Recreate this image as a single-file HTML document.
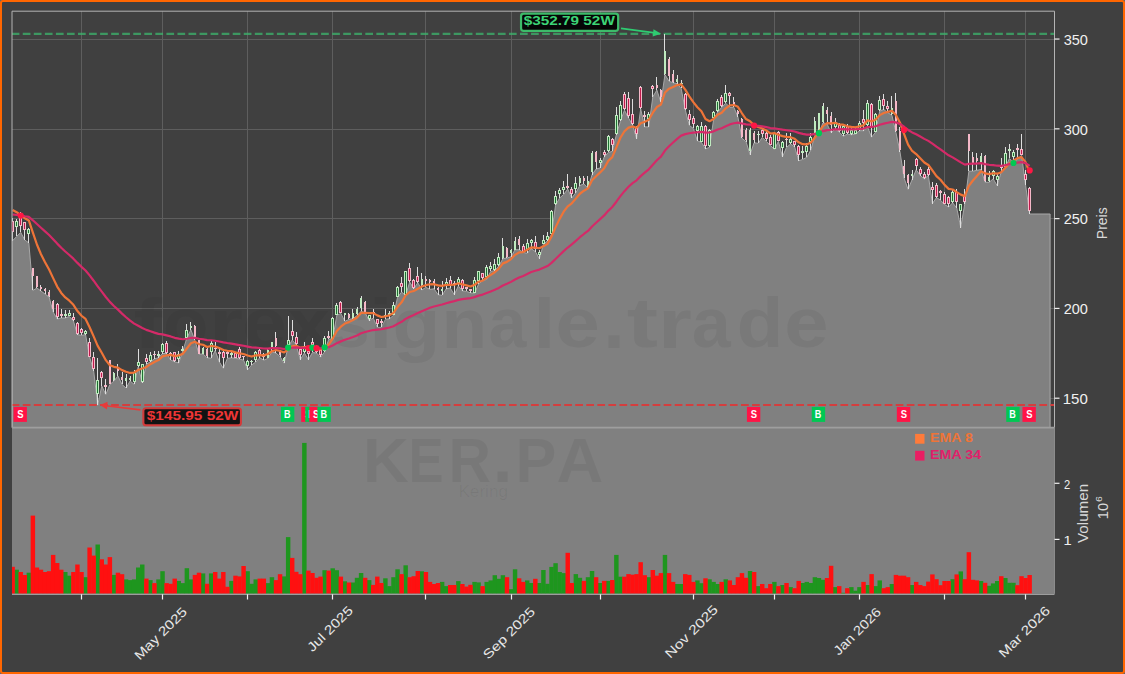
<!DOCTYPE html>
<html><head><meta charset="utf-8"><style>
html,body{margin:0;padding:0;background:#5b6670;overflow:hidden;}
#f{position:relative;width:1125px;height:674px;overflow:hidden;background:#5b6670;}
#b{position:absolute;left:0;top:0;width:1121px;height:670px;border:2px solid #ff6600;border-radius:3px;background:#404040;}
</style></head><body><div id="f"><div id="b"></div>
<svg width="1125" height="674" viewBox="0 0 1125 674" style="position:absolute;left:0;top:0">
<defs><clipPath id="cp"><rect x="12.00" y="11.20" width="1042.50" height="416.50"/></clipPath>
<clipPath id="cv"><rect x="12.00" y="427.70" width="1042.50" height="166.10"/></clipPath></defs>
<rect x="12.0" y="11.2" width="1042.5" height="416.5" fill="#404040"/>
<path d="M81.5 11.2V427.7M162.5 11.2V427.7M247.5 11.2V427.7M332.5 11.2V427.7M425.5 11.2V427.7M511.5 11.2V427.7M600.5 11.2V427.7M693.5 11.2V427.7M774.5 11.2V427.7M859.5 11.2V427.7M944.5 11.2V427.7M1025.5 11.2V427.7M12.0 39.5H1054.5M12.0 129.5H1054.5M12.0 218.5H1054.5M12.0 308.5H1054.5M12.0 398.5H1054.5" stroke="#5e5e5e" stroke-width="1" fill="none"/>
<g clip-path="url(#cp)">
<polygon points="12.00,429.70 12.00,240.70 12.62,240.70 16.67,236.50 20.72,232.40 24.78,240.00 28.83,242.90 32.88,290.50 36.93,288.00 40.98,291.00 45.04,294.00 49.09,297.00 53.14,312.00 57.19,319.00 61.24,318.00 65.29,318.00 69.35,316.50 73.40,320.80 77.45,334.60 81.50,335.40 85.55,334.60 89.61,357.00 93.66,370.70 97.71,405.20 101.76,386.00 105.81,394.50 109.87,384.50 113.92,381.00 117.97,376.00 122.02,384.50 126.07,388.00 130.13,381.00 134.18,384.40 138.23,367.00 142.28,382.60 146.33,364.20 150.38,361.80 154.44,358.90 158.49,357.70 162.54,353.50 166.59,353.50 170.64,360.00 174.70,361.80 178.75,363.00 182.80,351.00 186.85,338.00 190.90,329.80 194.96,340.50 199.01,354.10 203.06,354.00 207.11,357.70 211.16,358.30 215.22,350.60 219.27,361.80 223.32,368.30 227.37,358.40 231.42,357.80 235.47,358.40 239.53,359.00 243.58,360.20 247.63,369.70 251.68,365.00 255.73,362.00 259.79,357.80 263.84,360.20 267.89,358.40 271.94,351.90 275.99,353.00 280.05,356.60 284.10,363.20 288.15,347.00 292.20,340.00 296.25,345.00 300.30,359.60 304.36,353.00 308.41,359.60 312.46,352.50 316.51,353.00 320.56,357.20 324.62,351.90 328.67,339.40 332.72,338.80 336.77,315.40 340.82,313.40 344.88,321.40 348.93,319.40 352.98,318.70 357.03,315.40 361.08,311.40 365.14,312.70 369.19,320.70 373.24,318.00 377.29,327.40 381.34,327.40 385.39,319.40 389.45,318.70 393.50,315.40 397.55,297.40 401.60,292.00 405.65,295.40 409.71,282.00 413.76,288.80 417.81,282.70 421.86,290.00 425.91,287.40 429.97,289.40 434.02,288.80 438.07,294.70 442.12,295.40 446.17,288.80 450.23,288.00 454.28,294.70 458.33,286.00 462.38,290.80 466.43,291.40 470.48,292.80 474.54,293.40 478.59,284.00 482.64,280.70 486.69,279.40 490.74,271.40 494.80,270.70 498.85,266.00 502.90,258.70 506.95,258.00 511.00,256.80 515.06,249.70 519.11,249.70 523.16,252.40 527.21,253.30 531.26,248.80 535.32,251.50 539.37,258.60 543.42,244.40 547.47,240.80 551.52,234.60 555.57,205.20 559.63,198.00 563.68,194.50 567.73,189.00 571.78,198.00 575.83,192.70 579.89,185.60 583.94,183.80 587.99,188.30 592.04,174.80 596.09,169.00 600.15,168.00 604.20,157.00 608.25,152.50 612.30,151.40 616.35,134.70 620.40,121.30 624.46,110.20 628.51,118.00 632.56,124.70 636.61,139.00 640.66,109.00 644.72,126.90 648.77,126.90 652.82,96.80 656.87,90.10 660.92,102.40 664.98,74.70 669.03,81.20 673.08,82.80 677.13,83.70 681.18,88.50 685.24,109.80 689.29,125.30 693.34,128.50 697.39,140.80 701.44,142.40 705.49,148.90 709.55,147.30 713.60,119.50 717.65,112.20 721.70,107.30 725.75,103.20 729.81,107.30 733.86,107.30 737.91,117.00 741.96,138.30 746.01,141.60 750.07,154.60 754.12,142.70 758.17,143.40 762.22,137.40 766.27,141.40 770.33,145.40 774.38,149.40 778.43,141.40 782.48,156.80 786.53,147.40 790.58,144.00 794.64,146.70 798.69,160.80 802.74,159.40 806.79,157.40 810.84,150.00 814.90,135.40 818.95,133.00 823.00,122.70 827.05,124.00 831.10,132.70 835.16,129.00 839.21,132.00 843.26,136.40 847.31,134.00 851.36,134.80 855.42,134.00 859.47,130.70 863.52,130.70 867.57,127.00 871.62,137.20 875.67,132.00 879.73,111.00 883.78,109.50 887.83,112.70 891.88,115.20 895.93,132.30 899.99,151.90 904.04,178.00 908.09,189.40 912.14,179.60 916.19,169.80 920.25,175.50 924.30,178.90 928.35,175.50 932.40,203.60 936.45,197.60 940.51,200.20 944.56,204.50 948.61,207.00 952.66,202.80 956.71,207.90 960.76,227.50 964.82,203.60 968.87,171.20 972.92,171.20 976.97,170.30 981.02,169.50 985.08,182.30 989.13,182.30 993.18,178.90 997.23,185.70 1001.28,171.70 1005.34,167.80 1009.39,158.50 1013.44,162.40 1017.49,159.30 1021.54,155.40 1025.59,185.00 1029.65,214.00 1050.10,214.00 1050.10,429.70" fill="#808080" stroke="#a8a8a8" stroke-width="1"/>
<text x="133.80" y="348.00" font-family="Liberation Sans" font-weight="bold" font-size="69.89" fill="#202020" fill-opacity="0.065" textLength="28.84" lengthAdjust="spacingAndGlyphs">f</text>
<text x="163.10" y="347.30" font-family="Liberation Sans" font-weight="bold" font-size="70.09" fill="#202020" fill-opacity="0.065" textLength="45.33" lengthAdjust="spacingAndGlyphs">o</text>
<text x="209.00" y="348.00" font-family="Liberation Sans" font-weight="bold" font-size="70.61" fill="#202020" fill-opacity="0.065" textLength="33.92" lengthAdjust="spacingAndGlyphs">r</text>
<text x="242.30" y="347.30" font-family="Liberation Sans" font-weight="bold" font-size="70.09" fill="#202020" fill-opacity="0.065" textLength="44.37" lengthAdjust="spacingAndGlyphs">e</text>
<text x="287.90" y="348.00" font-family="Liberation Sans" font-weight="bold" font-size="70.13" fill="#202020" fill-opacity="0.065" textLength="41.56" lengthAdjust="spacingAndGlyphs">x</text>
<text x="331.50" y="347.30" font-family="Liberation Sans" font-weight="bold" font-size="70.09" fill="#202020" fill-opacity="0.065" textLength="38.15" lengthAdjust="spacingAndGlyphs">s</text>
<text x="369.10" y="348.00" font-family="Liberation Sans" font-weight="bold" font-size="69.89" fill="#202020" fill-opacity="0.065" textLength="23.56" lengthAdjust="spacingAndGlyphs">i</text>
<text x="392.40" y="348.30" font-family="Liberation Sans" font-weight="bold" font-size="70.85" fill="#202020" fill-opacity="0.065" textLength="47.85" lengthAdjust="spacingAndGlyphs">g</text>
<text x="441.40" y="348.00" font-family="Liberation Sans" font-weight="bold" font-size="70.61" fill="#202020" fill-opacity="0.065" textLength="45.70" lengthAdjust="spacingAndGlyphs">n</text>
<text x="488.70" y="347.30" font-family="Liberation Sans" font-weight="bold" font-size="70.09" fill="#202020" fill-opacity="0.065" textLength="37.65" lengthAdjust="spacingAndGlyphs">a</text>
<text x="533.60" y="348.00" font-family="Liberation Sans" font-weight="bold" font-size="69.89" fill="#202020" fill-opacity="0.065" textLength="21.75" lengthAdjust="spacingAndGlyphs">l</text>
<text x="555.60" y="347.30" font-family="Liberation Sans" font-weight="bold" font-size="70.09" fill="#202020" fill-opacity="0.065" textLength="44.32" lengthAdjust="spacingAndGlyphs">e</text>
<text x="603.20" y="348.00" font-family="Liberation Sans" font-weight="bold" font-size="85.52" fill="#202020" fill-opacity="0.065" textLength="21.57" lengthAdjust="spacingAndGlyphs">.</text>
<text x="626.80" y="347.00" font-family="Liberation Sans" font-weight="bold" font-size="69.95" fill="#202020" fill-opacity="0.065" textLength="31.29" lengthAdjust="spacingAndGlyphs">t</text>
<text x="658.10" y="348.00" font-family="Liberation Sans" font-weight="bold" font-size="70.61" fill="#202020" fill-opacity="0.065" textLength="33.92" lengthAdjust="spacingAndGlyphs">r</text>
<text x="692.10" y="347.30" font-family="Liberation Sans" font-weight="bold" font-size="70.09" fill="#202020" fill-opacity="0.065" textLength="38.64" lengthAdjust="spacingAndGlyphs">a</text>
<text x="736.70" y="347.30" font-family="Liberation Sans" font-weight="bold" font-size="69.51" fill="#202020" fill-opacity="0.065" textLength="46.57" lengthAdjust="spacingAndGlyphs">d</text>
<text x="784.30" y="347.30" font-family="Liberation Sans" font-weight="bold" font-size="70.09" fill="#202020" fill-opacity="0.065" textLength="44.37" lengthAdjust="spacingAndGlyphs">e</text>
<line x1="11.7" y1="33.9" x2="1054.5" y2="33.9" stroke="#3cb46c" stroke-opacity="0.75" stroke-width="2.08" stroke-dasharray="7.71 3.34"/>
<line x1="11.7" y1="405.0" x2="1054.5" y2="405.0" stroke="#d83a3a" stroke-opacity="0.95" stroke-width="2.08" stroke-dasharray="7.71 3.34"/>
<path d="M12.5 218.0V241.0M16.5 219.0V236.0M20.5 212.0V232.0M24.5 222.0V240.0M28.5 228.0V243.0M32.5 268.0V290.0M36.5 276.0V288.0M40.5 285.0V291.0M45.5 288.0V294.0M49.5 290.0V297.0M53.5 300.0V312.0M57.5 303.0V319.0M61.5 309.0V318.0M65.5 310.0V318.0M69.5 310.0V316.0M73.5 313.0V321.0M77.5 322.0V335.0M81.5 328.0V335.0M85.5 330.0V335.0M89.5 338.0V357.0M93.5 352.0V371.0M97.5 358.0V405.0M101.5 371.0V386.0M105.5 379.0V394.0M109.5 360.0V384.0M113.5 372.0V381.0M117.5 364.0V376.0M122.5 372.0V384.0M126.5 374.0V388.0M130.5 376.0V381.0M134.5 370.0V384.0M138.5 349.0V367.0M142.5 364.0V383.0M146.5 354.0V364.0M150.5 352.0V362.0M154.5 351.0V359.0M158.5 351.0V358.0M162.5 343.0V354.0M166.5 341.0V354.0M170.5 352.0V360.0M174.5 352.0V362.0M178.5 351.0V363.0M182.5 346.0V351.0M186.5 324.0V338.0M190.5 322.0V330.0M194.5 325.0V340.0M199.5 340.0V354.0M203.5 347.0V354.0M207.5 348.0V358.0M211.5 341.0V358.0M215.5 342.0V351.0M219.5 349.0V362.0M223.5 349.0V368.0M227.5 351.0V358.0M231.5 352.0V358.0M235.5 352.0V358.0M239.5 347.0V359.0M243.5 356.0V360.0M247.5 360.0V370.0M251.5 360.0V365.0M255.5 351.0V362.0M259.5 349.0V358.0M263.5 353.0V360.0M267.5 349.0V358.0M271.5 342.0V352.0M275.5 332.0V353.0M280.5 350.0V357.0M284.5 357.0V363.0M288.5 316.0V347.0M292.5 320.0V340.0M296.5 332.0V345.0M300.5 348.0V360.0M304.5 342.0V353.0M308.5 348.0V360.0M312.5 338.0V352.0M316.5 345.0V353.0M320.5 349.0V357.0M324.5 336.0V352.0M328.5 331.0V339.0M332.5 317.0V339.0M336.5 303.0V315.0M340.5 301.0V313.0M344.5 313.0V321.0M348.5 313.0V319.0M352.5 309.0V319.0M357.5 307.0V315.0M361.5 296.0V311.0M365.5 301.0V313.0M369.5 315.0V321.0M373.5 309.0V318.0M377.5 319.0V327.0M381.5 319.0V327.0M385.5 309.0V319.0M389.5 311.0V319.0M393.5 302.0V315.0M397.5 286.0V297.0M401.5 277.0V292.0M405.5 271.0V295.0M409.5 263.0V282.0M413.5 279.0V289.0M417.5 267.0V283.0M421.5 273.0V290.0M425.5 276.0V287.0M429.5 279.0V289.0M434.5 279.0V289.0M438.5 287.0V295.0M442.5 281.0V295.0M446.5 278.0V289.0M450.5 276.0V288.0M454.5 281.0V295.0M458.5 277.0V286.0M462.5 279.0V291.0M466.5 287.0V291.0M470.5 289.0V293.0M474.5 277.0V293.0M478.5 271.0V284.0M482.5 273.0V281.0M486.5 265.0V279.0M490.5 262.0V271.0M494.5 259.0V271.0M498.5 253.0V266.0M502.5 238.0V259.0M506.5 247.0V258.0M511.5 249.0V257.0M515.5 237.0V250.0M519.5 236.0V250.0M523.5 244.0V252.0M527.5 239.0V253.0M531.5 239.0V249.0M535.5 236.0V252.0M539.5 250.0V259.0M543.5 235.0V244.0M547.5 232.0V241.0M551.5 210.0V235.0M555.5 191.0V205.0M559.5 188.0V198.0M563.5 181.0V194.0M567.5 174.0V189.0M571.5 187.0V198.0M575.5 177.0V193.0M579.5 176.0V186.0M583.5 176.0V184.0M587.5 176.0V188.0M592.5 151.0V175.0M596.5 151.0V169.0M600.5 158.0V168.0M604.5 150.0V157.0M608.5 135.0V152.0M612.5 138.0V151.0M616.5 107.0V135.0M620.5 101.0V121.0M624.5 92.0V110.0M628.5 92.0V118.0M632.5 99.0V125.0M636.5 126.0V139.0M640.5 86.0V109.0M644.5 111.0V127.0M648.5 112.0V127.0M652.5 85.0V97.0M656.5 77.0V90.0M660.5 89.0V102.0M664.5 34.0V75.0M669.5 57.0V81.0M673.5 70.0V83.0M677.5 75.0V84.0M681.5 80.0V88.0M685.5 93.0V110.0M689.5 110.0V125.0M693.5 116.0V128.0M697.5 125.0V141.0M701.5 122.0V142.0M705.5 125.0V149.0M709.5 129.0V147.0M713.5 111.0V120.0M717.5 99.0V112.0M721.5 95.0V107.0M725.5 85.0V103.0M729.5 92.0V107.0M733.5 97.0V107.0M737.5 110.0V117.0M741.5 118.0V138.0M746.5 128.0V142.0M750.5 128.0V155.0M754.5 131.0V143.0M758.5 131.0V143.0M762.5 129.0V137.0M766.5 131.0V141.0M770.5 135.0V145.0M774.5 132.0V149.0M778.5 131.0V141.0M782.5 141.0V157.0M786.5 133.0V147.0M790.5 133.0V144.0M794.5 141.0V147.0M798.5 145.0V161.0M802.5 146.0V159.0M806.5 143.0V157.0M810.5 133.0V150.0M814.5 117.0V135.0M818.5 113.0V133.0M823.5 103.0V123.0M827.5 107.0V124.0M831.5 112.0V133.0M835.5 118.0V129.0M839.5 123.0V132.0M843.5 124.0V136.0M847.5 124.0V134.0M851.5 128.0V135.0M855.5 128.0V134.0M859.5 121.0V131.0M863.5 110.0V131.0M867.5 100.0V127.0M871.5 103.0V137.0M875.5 113.0V132.0M879.5 96.0V111.0M883.5 94.0V110.0M887.5 101.0V113.0M891.5 96.0V115.0M895.5 93.0V132.0M899.5 127.0V152.0M904.5 160.0V178.0M908.5 174.0V189.0M912.5 170.0V180.0M916.5 158.0V170.0M920.5 167.0V176.0M924.5 172.0V179.0M928.5 167.0V176.0M932.5 182.0V204.0M936.5 183.0V198.0M940.5 190.0V200.0M944.5 192.0V204.0M948.5 196.0V207.0M952.5 189.0V203.0M956.5 189.0V208.0M960.5 204.0V228.0M964.5 189.0V204.0M968.5 134.0V171.0M972.5 152.0V171.0M976.5 153.0V170.0M981.5 153.0V170.0M985.5 155.0V182.0M989.5 171.0V182.0M993.5 170.0V179.0M997.5 173.0V186.0M1001.5 158.0V172.0M1005.5 147.0V168.0M1009.5 144.0V158.0M1013.5 150.0V162.0M1017.5 144.0V159.0M1021.5 134.0V155.0M1025.5 170.0V185.0M1029.5 187.0V214.0" stroke="#dedede" stroke-width="1" fill="none" shape-rendering="crispEdges"/>
<g fill="#bfeabf" shape-rendering="crispEdges"><rect x="15" y="221" width="3" height="6"/><rect x="27" y="229" width="3" height="5"/><rect x="64" y="314" width="3" height="2"/><rect x="68" y="313" width="3" height="3"/><rect x="84" y="331" width="3" height="3"/><rect x="96" y="380" width="3" height="14"/><rect x="113" y="373" width="2" height="7"/><rect x="125" y="378" width="2" height="3"/><rect x="129" y="378" width="2" height="2"/><rect x="133" y="372" width="3" height="10"/><rect x="137" y="362" width="3" height="4"/><rect x="141" y="364" width="3" height="18"/><rect x="149" y="355" width="3" height="6"/><rect x="157" y="354" width="3" height="2"/><rect x="161" y="344" width="3" height="8"/><rect x="177" y="354" width="3" height="5"/><rect x="181" y="349" width="3" height="2"/><rect x="185" y="330" width="3" height="8"/><rect x="190" y="326" width="2" height="2"/><rect x="202" y="348" width="2" height="6"/><rect x="210" y="343" width="3" height="9"/><rect x="230" y="353" width="3" height="2"/><rect x="246" y="361" width="3" height="5"/><rect x="250" y="361" width="3" height="1"/><rect x="254" y="352" width="3" height="8"/><rect x="267" y="350" width="2" height="8"/><rect x="271" y="342" width="2" height="5"/><rect x="283" y="358" width="2" height="3"/><rect x="287" y="340" width="3" height="5"/><rect x="303" y="346" width="3" height="6"/><rect x="323" y="338" width="3" height="13"/><rect x="331" y="318" width="3" height="21"/><rect x="335" y="305" width="3" height="10"/><rect x="344" y="313" width="2" height="2"/><rect x="352" y="313" width="2" height="5"/><rect x="356" y="309" width="2" height="5"/><rect x="360" y="298" width="2" height="10"/><rect x="368" y="315" width="3" height="4"/><rect x="384" y="315" width="3" height="2"/><rect x="388" y="313" width="3" height="2"/><rect x="392" y="305" width="3" height="10"/><rect x="396" y="287" width="3" height="10"/><rect x="404" y="271" width="3" height="24"/><rect x="421" y="279" width="2" height="6"/><rect x="441" y="289" width="2" height="2"/><rect x="445" y="282" width="3" height="3"/><rect x="457" y="279" width="3" height="4"/><rect x="473" y="280" width="3" height="13"/><rect x="477" y="271" width="3" height="10"/><rect x="485" y="267" width="3" height="10"/><rect x="489" y="266" width="3" height="3"/><rect x="493" y="264" width="3" height="6"/><rect x="497" y="257" width="3" height="8"/><rect x="502" y="246" width="2" height="12"/><rect x="510" y="250" width="2" height="3"/><rect x="514" y="241" width="2" height="9"/><rect x="526" y="243" width="3" height="7"/><rect x="530" y="240" width="3" height="3"/><rect x="538" y="252" width="3" height="3"/><rect x="542" y="240" width="3" height="4"/><rect x="546" y="236" width="3" height="4"/><rect x="550" y="211" width="3" height="23"/><rect x="554" y="196" width="3" height="8"/><rect x="558" y="190" width="3" height="4"/><rect x="562" y="187" width="3" height="3"/><rect x="574" y="183" width="3" height="6"/><rect x="579" y="178" width="2" height="5"/><rect x="587" y="181" width="2" height="5"/><rect x="591" y="153" width="2" height="19"/><rect x="599" y="160" width="3" height="3"/><rect x="607" y="136" width="3" height="15"/><rect x="615" y="115" width="3" height="19"/><rect x="619" y="105" width="3" height="15"/><rect x="647" y="114" width="3" height="5"/><rect x="664" y="51" width="2" height="23"/><rect x="676" y="79" width="2" height="3"/><rect x="680" y="83" width="3" height="1"/><rect x="696" y="126" width="3" height="5"/><rect x="700" y="126" width="3" height="16"/><rect x="708" y="130" width="3" height="16"/><rect x="712" y="112" width="3" height="6"/><rect x="716" y="101" width="3" height="10"/><rect x="724" y="93" width="3" height="9"/><rect x="749" y="130" width="2" height="21"/><rect x="757" y="134" width="3" height="1"/><rect x="773" y="133" width="3" height="16"/><rect x="781" y="142" width="3" height="6"/><rect x="789" y="139" width="3" height="4"/><rect x="801" y="151" width="3" height="2"/><rect x="805" y="146" width="3" height="6"/><rect x="809" y="137" width="3" height="5"/><rect x="814" y="121" width="2" height="13"/><rect x="818" y="113" width="2" height="18"/><rect x="822" y="106" width="2" height="16"/><rect x="834" y="122" width="3" height="5"/><rect x="842" y="126" width="3" height="8"/><rect x="850" y="130" width="3" height="4"/><rect x="854" y="130" width="3" height="4"/><rect x="858" y="123" width="3" height="7"/><rect x="866" y="103" width="3" height="22"/><rect x="874" y="114" width="3" height="18"/><rect x="878" y="100" width="3" height="10"/><rect x="891" y="108" width="2" height="6"/><rect x="911" y="174" width="2" height="2"/><rect x="951" y="192" width="3" height="10"/><rect x="959" y="204" width="3" height="7"/><rect x="980" y="156" width="2" height="7"/><rect x="988" y="177" width="2" height="4"/><rect x="992" y="171" width="3" height="5"/><rect x="996" y="176" width="3" height="4"/><rect x="1004" y="153" width="3" height="14"/><rect x="1008" y="149" width="3" height="2"/><rect x="1012" y="152" width="3" height="5"/></g>
<g fill="#1e7232" shape-rendering="crispEdges"><rect x="16" y="222" width="1" height="4"/><rect x="28" y="230" width="1" height="3"/><rect x="69" y="314" width="1" height="1"/><rect x="85" y="332" width="1" height="1"/><rect x="97" y="381" width="1" height="12"/><rect x="134" y="373" width="1" height="8"/><rect x="138" y="363" width="1" height="2"/><rect x="142" y="365" width="1" height="16"/><rect x="150" y="356" width="1" height="4"/><rect x="162" y="345" width="1" height="6"/><rect x="178" y="355" width="1" height="3"/><rect x="186" y="331" width="1" height="6"/><rect x="211" y="344" width="1" height="7"/><rect x="247" y="362" width="1" height="3"/><rect x="255" y="353" width="1" height="6"/><rect x="288" y="341" width="1" height="3"/><rect x="304" y="347" width="1" height="4"/><rect x="324" y="339" width="1" height="11"/><rect x="332" y="319" width="1" height="19"/><rect x="336" y="306" width="1" height="8"/><rect x="369" y="316" width="1" height="2"/><rect x="393" y="306" width="1" height="8"/><rect x="397" y="288" width="1" height="8"/><rect x="405" y="272" width="1" height="22"/><rect x="446" y="283" width="1" height="1"/><rect x="458" y="280" width="1" height="2"/><rect x="474" y="281" width="1" height="11"/><rect x="478" y="272" width="1" height="8"/><rect x="486" y="268" width="1" height="8"/><rect x="490" y="267" width="1" height="1"/><rect x="494" y="265" width="1" height="4"/><rect x="498" y="258" width="1" height="6"/><rect x="527" y="244" width="1" height="5"/><rect x="531" y="241" width="1" height="1"/><rect x="539" y="253" width="1" height="1"/><rect x="543" y="241" width="1" height="2"/><rect x="547" y="237" width="1" height="2"/><rect x="551" y="212" width="1" height="21"/><rect x="555" y="197" width="1" height="6"/><rect x="559" y="191" width="1" height="2"/><rect x="563" y="188" width="1" height="1"/><rect x="575" y="184" width="1" height="4"/><rect x="600" y="161" width="1" height="1"/><rect x="608" y="137" width="1" height="13"/><rect x="616" y="116" width="1" height="17"/><rect x="620" y="106" width="1" height="13"/><rect x="648" y="115" width="1" height="3"/><rect x="697" y="127" width="1" height="3"/><rect x="701" y="127" width="1" height="14"/><rect x="709" y="131" width="1" height="14"/><rect x="713" y="113" width="1" height="4"/><rect x="717" y="102" width="1" height="8"/><rect x="725" y="94" width="1" height="7"/><rect x="774" y="134" width="1" height="14"/><rect x="782" y="143" width="1" height="4"/><rect x="790" y="140" width="1" height="2"/><rect x="806" y="147" width="1" height="4"/><rect x="810" y="138" width="1" height="3"/><rect x="835" y="123" width="1" height="3"/><rect x="843" y="127" width="1" height="6"/><rect x="851" y="131" width="1" height="2"/><rect x="855" y="131" width="1" height="2"/><rect x="859" y="124" width="1" height="5"/><rect x="867" y="104" width="1" height="20"/><rect x="875" y="115" width="1" height="16"/><rect x="879" y="101" width="1" height="8"/><rect x="952" y="193" width="1" height="8"/><rect x="960" y="205" width="1" height="5"/><rect x="993" y="172" width="1" height="3"/><rect x="997" y="177" width="1" height="2"/><rect x="1005" y="154" width="1" height="12"/><rect x="1013" y="153" width="1" height="3"/></g>
<g fill="#f5b8c8" shape-rendering="crispEdges"><rect x="11" y="221" width="3" height="11"/><rect x="19" y="213" width="3" height="13"/><rect x="23" y="222" width="3" height="8"/><rect x="32" y="268" width="2" height="8"/><rect x="36" y="276" width="2" height="11"/><rect x="40" y="287" width="2" height="2"/><rect x="44" y="289" width="2" height="2"/><rect x="48" y="292" width="2" height="4"/><rect x="52" y="301" width="2" height="8"/><rect x="56" y="304" width="3" height="13"/><rect x="60" y="314" width="3" height="2"/><rect x="72" y="317" width="3" height="3"/><rect x="76" y="323" width="3" height="11"/><rect x="80" y="329" width="3" height="4"/><rect x="88" y="342" width="3" height="15"/><rect x="92" y="357" width="3" height="12"/><rect x="100" y="372" width="3" height="6"/><rect x="104" y="385" width="3" height="2"/><rect x="109" y="360" width="2" height="24"/><rect x="117" y="368" width="2" height="3"/><rect x="121" y="377" width="2" height="3"/><rect x="145" y="358" width="3" height="4"/><rect x="153" y="354" width="3" height="1"/><rect x="165" y="343" width="3" height="10"/><rect x="169" y="353" width="3" height="1"/><rect x="173" y="352" width="3" height="9"/><rect x="194" y="326" width="2" height="11"/><rect x="198" y="340" width="2" height="14"/><rect x="206" y="349" width="2" height="7"/><rect x="214" y="348" width="3" height="1"/><rect x="218" y="352" width="3" height="2"/><rect x="222" y="352" width="3" height="6"/><rect x="226" y="352" width="3" height="2"/><rect x="234" y="353" width="3" height="5"/><rect x="238" y="349" width="3" height="9"/><rect x="242" y="356" width="3" height="1"/><rect x="258" y="350" width="3" height="5"/><rect x="262" y="354" width="3" height="3"/><rect x="275" y="338" width="2" height="8"/><rect x="279" y="350" width="2" height="5"/><rect x="291" y="331" width="3" height="5"/><rect x="295" y="337" width="3" height="7"/><rect x="299" y="349" width="3" height="6"/><rect x="307" y="351" width="3" height="3"/><rect x="311" y="342" width="3" height="3"/><rect x="315" y="348" width="3" height="4"/><rect x="319" y="350" width="3" height="5"/><rect x="327" y="336" width="3" height="2"/><rect x="339" y="302" width="3" height="11"/><rect x="348" y="314" width="2" height="4"/><rect x="364" y="302" width="2" height="11"/><rect x="372" y="312" width="3" height="2"/><rect x="376" y="319" width="3" height="5"/><rect x="380" y="321" width="3" height="2"/><rect x="400" y="283" width="3" height="4"/><rect x="408" y="268" width="3" height="13"/><rect x="412" y="280" width="3" height="8"/><rect x="416" y="276" width="3" height="6"/><rect x="425" y="279" width="2" height="2"/><rect x="429" y="280" width="2" height="2"/><rect x="433" y="281" width="2" height="4"/><rect x="437" y="288" width="2" height="2"/><rect x="449" y="280" width="3" height="5"/><rect x="453" y="283" width="3" height="2"/><rect x="461" y="280" width="3" height="9"/><rect x="465" y="287" width="3" height="2"/><rect x="469" y="289" width="3" height="2"/><rect x="481" y="273" width="3" height="5"/><rect x="506" y="248" width="2" height="9"/><rect x="518" y="239" width="2" height="6"/><rect x="522" y="246" width="3" height="6"/><rect x="534" y="242" width="3" height="7"/><rect x="566" y="186" width="3" height="2"/><rect x="570" y="189" width="3" height="5"/><rect x="583" y="178" width="2" height="3"/><rect x="595" y="152" width="2" height="10"/><rect x="603" y="152" width="3" height="3"/><rect x="611" y="139" width="3" height="6"/><rect x="623" y="94" width="3" height="15"/><rect x="627" y="98" width="3" height="18"/><rect x="631" y="114" width="3" height="10"/><rect x="635" y="128" width="3" height="6"/><rect x="639" y="87" width="3" height="21"/><rect x="643" y="115" width="3" height="2"/><rect x="651" y="86" width="3" height="3"/><rect x="656" y="85" width="2" height="3"/><rect x="660" y="90" width="2" height="7"/><rect x="668" y="59" width="2" height="17"/><rect x="672" y="74" width="2" height="8"/><rect x="684" y="94" width="3" height="15"/><rect x="688" y="114" width="3" height="6"/><rect x="692" y="118" width="3" height="6"/><rect x="704" y="126" width="3" height="20"/><rect x="720" y="97" width="3" height="9"/><rect x="728" y="93" width="3" height="3"/><rect x="733" y="102" width="2" height="3"/><rect x="737" y="111" width="2" height="3"/><rect x="741" y="119" width="2" height="18"/><rect x="745" y="130" width="2" height="10"/><rect x="753" y="133" width="2" height="7"/><rect x="761" y="130" width="3" height="4"/><rect x="765" y="133" width="3" height="6"/><rect x="769" y="137" width="3" height="8"/><rect x="777" y="132" width="3" height="9"/><rect x="785" y="139" width="3" height="1"/><rect x="793" y="141" width="3" height="4"/><rect x="797" y="146" width="3" height="9"/><rect x="826" y="110" width="2" height="4"/><rect x="830" y="116" width="2" height="9"/><rect x="838" y="125" width="3" height="6"/><rect x="846" y="126" width="3" height="7"/><rect x="862" y="119" width="3" height="4"/><rect x="870" y="104" width="3" height="23"/><rect x="882" y="99" width="3" height="7"/><rect x="886" y="106" width="3" height="3"/><rect x="895" y="101" width="2" height="30"/><rect x="899" y="131" width="2" height="19"/><rect x="903" y="166" width="2" height="8"/><rect x="907" y="175" width="2" height="8"/><rect x="915" y="159" width="3" height="7"/><rect x="919" y="169" width="3" height="5"/><rect x="923" y="174" width="3" height="4"/><rect x="927" y="169" width="3" height="6"/><rect x="931" y="187" width="3" height="3"/><rect x="935" y="185" width="3" height="12"/><rect x="939" y="191" width="3" height="2"/><rect x="943" y="194" width="3" height="10"/><rect x="947" y="197" width="3" height="7"/><rect x="955" y="192" width="3" height="10"/><rect x="963" y="195" width="3" height="7"/><rect x="968" y="134" width="2" height="17"/><rect x="972" y="157" width="2" height="6"/><rect x="976" y="158" width="2" height="3"/><rect x="984" y="156" width="2" height="25"/><rect x="1000" y="165" width="3" height="3"/><rect x="1016" y="148" width="3" height="2"/><rect x="1020" y="149" width="3" height="6"/><rect x="1024" y="174" width="3" height="6"/><rect x="1028" y="188" width="3" height="23"/></g>
<g fill="#c01a4c" shape-rendering="crispEdges"><rect x="12" y="222" width="1" height="9"/><rect x="20" y="214" width="1" height="11"/><rect x="24" y="223" width="1" height="6"/><rect x="57" y="305" width="1" height="11"/><rect x="73" y="318" width="1" height="1"/><rect x="77" y="324" width="1" height="9"/><rect x="81" y="330" width="1" height="2"/><rect x="89" y="343" width="1" height="13"/><rect x="93" y="358" width="1" height="10"/><rect x="101" y="373" width="1" height="4"/><rect x="146" y="359" width="1" height="2"/><rect x="166" y="344" width="1" height="8"/><rect x="174" y="353" width="1" height="7"/><rect x="223" y="353" width="1" height="4"/><rect x="235" y="354" width="1" height="3"/><rect x="239" y="350" width="1" height="7"/><rect x="259" y="351" width="1" height="3"/><rect x="263" y="355" width="1" height="1"/><rect x="292" y="332" width="1" height="3"/><rect x="296" y="338" width="1" height="5"/><rect x="300" y="350" width="1" height="4"/><rect x="308" y="352" width="1" height="1"/><rect x="312" y="343" width="1" height="1"/><rect x="316" y="349" width="1" height="2"/><rect x="320" y="351" width="1" height="3"/><rect x="340" y="303" width="1" height="9"/><rect x="377" y="320" width="1" height="3"/><rect x="401" y="284" width="1" height="2"/><rect x="409" y="269" width="1" height="11"/><rect x="413" y="281" width="1" height="6"/><rect x="417" y="277" width="1" height="4"/><rect x="450" y="281" width="1" height="3"/><rect x="462" y="281" width="1" height="7"/><rect x="482" y="274" width="1" height="3"/><rect x="523" y="247" width="1" height="4"/><rect x="535" y="243" width="1" height="5"/><rect x="571" y="190" width="1" height="3"/><rect x="604" y="153" width="1" height="1"/><rect x="612" y="140" width="1" height="4"/><rect x="624" y="95" width="1" height="13"/><rect x="628" y="99" width="1" height="16"/><rect x="632" y="115" width="1" height="8"/><rect x="636" y="129" width="1" height="4"/><rect x="640" y="88" width="1" height="19"/><rect x="652" y="87" width="1" height="1"/><rect x="685" y="95" width="1" height="13"/><rect x="689" y="115" width="1" height="4"/><rect x="693" y="119" width="1" height="4"/><rect x="705" y="127" width="1" height="18"/><rect x="721" y="98" width="1" height="7"/><rect x="729" y="94" width="1" height="1"/><rect x="762" y="131" width="1" height="2"/><rect x="766" y="134" width="1" height="4"/><rect x="770" y="138" width="1" height="6"/><rect x="778" y="133" width="1" height="7"/><rect x="794" y="142" width="1" height="2"/><rect x="798" y="147" width="1" height="7"/><rect x="839" y="126" width="1" height="4"/><rect x="847" y="127" width="1" height="5"/><rect x="863" y="120" width="1" height="2"/><rect x="871" y="105" width="1" height="21"/><rect x="883" y="100" width="1" height="5"/><rect x="887" y="107" width="1" height="1"/><rect x="916" y="160" width="1" height="5"/><rect x="920" y="170" width="1" height="3"/><rect x="924" y="175" width="1" height="2"/><rect x="928" y="170" width="1" height="4"/><rect x="932" y="188" width="1" height="1"/><rect x="936" y="186" width="1" height="10"/><rect x="944" y="195" width="1" height="8"/><rect x="948" y="198" width="1" height="5"/><rect x="956" y="193" width="1" height="8"/><rect x="964" y="196" width="1" height="5"/><rect x="1001" y="166" width="1" height="1"/><rect x="1021" y="150" width="1" height="4"/><rect x="1025" y="175" width="1" height="4"/><rect x="1029" y="189" width="1" height="21"/></g>
<polyline points="12.62,209.92 16.67,212.20 20.72,215.09 24.78,218.22 28.83,220.44 32.88,232.61 36.93,244.51 40.98,254.22 45.04,262.21 49.09,269.54 53.14,278.13 57.19,286.59 61.24,292.95 65.29,297.44 69.35,300.72 73.40,304.83 77.45,311.06 81.50,315.74 85.55,318.95 89.61,327.22 93.66,336.33 97.71,345.85 101.76,352.73 105.81,360.17 109.87,365.19 113.92,366.82 117.97,367.57 122.02,370.15 126.07,371.71 130.13,372.93 134.18,372.54 138.23,369.98 142.28,368.51 146.33,366.98 150.38,364.20 154.44,362.04 158.49,360.08 162.54,356.32 166.59,355.41 170.64,354.91 174.70,356.13 178.75,355.37 182.80,353.86 186.85,348.47 190.90,343.30 194.96,341.72 199.01,344.16 203.06,344.74 207.11,347.06 211.16,345.94 215.22,346.53 219.27,348.01 223.32,349.98 227.37,350.76 231.42,351.08 235.47,352.39 239.53,353.42 243.58,354.03 247.63,355.49 251.68,356.53 255.73,355.33 259.79,355.05 263.84,355.35 267.89,353.98 271.94,351.23 275.99,350.00 280.05,351.02 284.10,352.48 288.15,349.53 292.20,346.45 296.25,345.64 300.30,347.63 304.36,347.09 308.41,348.38 312.46,347.54 316.51,348.33 320.56,349.72 324.62,346.87 328.67,344.72 332.72,338.60 336.77,330.89 340.82,326.67 344.88,323.54 348.93,322.13 352.98,320.01 357.03,317.47 361.08,312.97 365.14,312.73 369.19,313.14 373.24,313.15 377.29,315.38 381.34,316.99 385.39,316.30 389.45,315.39 393.50,312.83 397.55,306.84 401.60,302.34 405.65,295.27 409.71,292.00 413.76,290.94 417.81,288.77 421.86,286.51 425.91,285.19 429.97,284.30 434.02,284.21 438.07,285.32 442.12,285.91 446.17,284.86 450.23,284.80 454.28,284.76 458.33,283.23 462.38,284.42 466.43,285.35 470.48,286.51 474.54,284.89 478.59,281.71 482.64,280.71 486.69,277.57 490.74,274.82 494.80,272.24 498.85,268.60 502.90,263.40 506.95,261.89 511.00,259.07 515.06,254.83 519.11,252.46 523.16,252.07 527.21,249.79 531.26,247.43 535.32,247.56 539.37,248.25 543.42,246.24 547.47,243.85 551.52,236.46 555.57,227.36 559.63,218.88 563.68,211.70 567.73,206.32 571.78,203.31 575.83,198.62 579.89,193.75 583.94,190.74 587.99,188.39 592.04,180.35 596.09,176.20 600.15,172.42 604.20,168.30 608.25,160.90 612.30,157.12 616.35,147.49 620.40,137.78 624.46,131.21 628.51,127.58 632.56,126.49 636.61,127.89 640.66,123.29 644.72,121.69 648.77,119.69 652.82,112.69 656.87,107.03 660.92,104.57 664.98,92.49 669.03,88.65 673.08,86.99 677.13,85.03 681.18,84.36 685.24,89.65 689.29,96.31 693.34,102.19 697.39,107.30 701.44,111.28 705.49,118.93 709.55,121.21 713.60,119.03 717.65,114.80 721.70,112.77 725.75,108.29 729.81,105.27 733.86,104.98 737.91,106.81 741.96,113.27 746.01,119.03 750.07,121.29 754.12,125.27 758.17,127.03 762.22,128.40 766.27,130.51 770.33,133.48 774.38,133.13 778.43,134.70 782.48,136.14 786.53,136.82 790.58,137.21 794.64,138.85 798.69,142.35 802.74,144.18 806.79,144.41 810.84,142.58 814.90,137.54 818.95,132.00 823.00,126.04 827.05,123.18 831.10,123.34 835.16,122.86 839.21,124.58 843.26,124.67 847.31,126.34 851.36,126.95 855.42,127.34 859.47,126.26 863.52,125.42 867.57,120.26 871.62,121.49 875.67,119.54 879.73,115.13 883.78,112.96 887.83,111.90 891.88,110.86 895.93,115.09 899.99,122.73 904.04,133.95 908.09,144.64 912.14,150.97 916.19,154.08 920.25,158.31 924.30,162.50 928.35,165.01 932.40,170.39 936.45,176.08 940.51,179.75 944.56,184.87 948.61,188.85 952.66,189.48 956.71,192.08 960.76,194.66 964.82,196.11 968.87,185.84 972.92,180.52 976.97,176.00 981.02,171.33 985.08,173.39 989.13,174.06 993.18,173.24 997.23,173.68 1001.28,172.24 1005.34,167.78 1009.39,163.43 1013.44,160.60 1017.49,158.06 1021.54,157.11 1025.59,162.09 1029.65,172.87" fill="none" stroke="#ee7438" stroke-width="2.2" stroke-linejoin="round"/>
<polyline points="12.62,214.50 16.67,214.84 20.72,215.45 24.78,216.25 28.83,216.95 32.88,220.29 36.93,224.07 40.98,227.75 45.04,231.33 49.09,235.00 53.14,239.20 57.19,243.61 61.24,247.72 65.29,251.47 69.35,254.96 73.40,258.64 77.45,262.90 81.50,266.87 85.55,270.51 89.61,275.42 93.66,280.73 97.71,286.38 101.76,291.56 105.81,296.98 109.87,301.90 113.92,305.95 117.97,309.64 122.02,313.63 126.07,317.27 130.13,320.71 134.18,323.61 138.23,325.76 142.28,327.93 146.33,329.87 150.38,331.29 154.44,332.63 158.49,333.82 162.54,334.37 166.59,335.41 170.64,336.44 174.70,337.82 178.75,338.69 182.80,339.27 186.85,338.73 190.90,337.97 194.96,337.89 199.01,338.75 203.06,339.22 207.11,340.15 211.16,340.27 215.22,340.76 219.27,341.49 223.32,342.38 227.37,343.03 231.42,343.57 235.47,344.35 239.53,345.09 243.58,345.74 247.63,346.61 251.68,347.40 255.73,347.62 259.79,348.01 263.84,348.50 267.89,348.56 271.94,348.18 275.99,348.05 280.05,348.44 284.10,348.98 288.15,348.43 292.20,347.72 296.25,347.45 300.30,347.88 304.36,347.74 308.41,348.05 312.46,347.87 316.51,348.07 320.56,348.45 324.62,347.81 328.67,347.22 332.72,345.52 336.77,343.15 340.82,341.38 344.88,339.75 348.93,338.48 352.98,337.02 357.03,335.41 361.08,333.24 365.14,332.03 369.19,331.05 373.24,330.05 377.29,329.67 381.34,329.28 385.39,328.42 389.45,327.51 393.50,326.17 397.55,323.89 401.60,321.77 405.65,318.86 409.71,316.68 413.76,315.01 417.81,313.10 421.86,311.14 425.91,309.41 429.97,307.81 434.02,306.46 438.07,305.49 442.12,304.51 446.17,303.19 450.23,302.14 454.28,301.15 458.33,299.84 462.38,299.21 466.43,298.62 470.48,298.18 474.54,297.11 478.59,295.61 482.64,294.57 486.69,292.99 490.74,291.42 494.80,289.82 498.85,287.89 502.90,285.47 506.95,283.84 511.00,281.87 515.06,279.49 519.11,277.49 523.16,275.98 527.21,274.04 531.26,272.06 535.32,270.70 539.37,269.57 543.42,267.85 547.47,266.02 551.52,262.87 555.57,259.03 559.63,255.06 563.68,251.16 567.73,247.54 571.78,244.42 575.83,240.88 579.89,237.23 583.94,233.99 587.99,230.93 592.04,226.44 596.09,222.76 600.15,219.14 604.20,215.43 608.25,210.85 612.30,207.04 616.35,201.72 620.40,196.14 624.46,191.13 628.51,186.79 632.56,183.14 636.61,180.28 640.66,176.12 644.72,172.71 648.77,169.29 652.82,164.67 656.87,160.26 660.92,156.60 664.98,150.54 669.03,146.25 673.08,142.55 677.13,138.88 681.18,135.65 685.24,134.10 689.29,133.28 693.34,132.70 697.39,132.28 701.44,131.89 705.49,132.70 709.55,132.51 713.60,131.32 717.65,129.55 721.70,128.20 725.75,126.18 729.81,124.40 733.86,123.25 737.91,122.69 741.96,123.46 746.01,124.37 750.07,124.66 754.12,125.51 758.17,125.96 762.22,126.39 766.27,127.06 770.33,128.04 774.38,128.28 778.43,128.97 782.48,129.69 786.53,130.24 790.58,130.74 794.64,131.54 798.69,132.88 802.74,133.90 806.79,134.56 810.84,134.67 814.90,133.84 818.95,132.64 823.00,131.09 827.05,130.08 831.10,129.75 835.16,129.27 839.21,129.36 843.26,129.13 847.31,129.32 851.36,129.32 855.42,129.30 859.47,128.93 863.52,128.57 867.57,127.08 871.62,127.02 875.67,126.22 879.73,124.72 883.78,123.63 887.83,122.76 891.88,121.89 895.93,122.36 899.99,123.93 904.04,126.76 908.09,129.94 912.14,132.42 916.19,134.29 920.25,136.53 924.30,138.87 928.35,140.88 932.40,143.65 936.45,146.66 940.51,149.30 944.56,152.37 948.61,155.27 952.66,157.36 956.71,159.88 960.76,162.40 964.82,164.64 968.87,163.81 972.92,163.71 976.97,163.53 981.02,163.06 985.08,164.07 989.13,164.79 993.18,165.13 997.23,165.72 1001.28,165.82 1005.34,165.05 1009.39,164.11 1013.44,163.36 1017.49,162.56 1021.54,162.08 1025.59,163.09 1029.65,165.82" fill="none" stroke="#d42a68" stroke-width="2.2" stroke-linejoin="round"/>
</g>
<circle cx="20.72" cy="215.60" r="3.1" fill="#ff1744"/>
<circle cx="288.15" cy="347.60" r="3.1" fill="#00c853"/>
<circle cx="308.41" cy="348.21" r="3.1" fill="#ff1744"/>
<circle cx="312.46" cy="347.70" r="3.1" fill="#00c853"/>
<circle cx="316.51" cy="348.20" r="3.1" fill="#ff1744"/>
<circle cx="324.62" cy="347.34" r="3.1" fill="#00c853"/>
<circle cx="754.12" cy="125.60" r="3.1" fill="#ff1744"/>
<circle cx="818.95" cy="133.20" r="3.1" fill="#00c853"/>
<circle cx="904.04" cy="129.90" r="3.1" fill="#ff1744"/>
<circle cx="1013.44" cy="163.00" r="3.1" fill="#00c853"/>
<circle cx="1029.65" cy="170.40" r="3.1" fill="#ff1744"/>
<rect x="13.52" y="406.9" width="13.4" height="15" fill="#ff1446"/>
<text x="17.32" y="418.00" font-family="Liberation Sans" font-weight="bold" font-size="11.00" fill="#fff" textLength="6.28" lengthAdjust="spacingAndGlyphs">S</text>
<rect x="280.95" y="406.9" width="13.4" height="15" fill="#00c853"/>
<text x="284.05" y="418.00" font-family="Liberation Sans" font-weight="bold" font-size="11.41" fill="#fff" textLength="6.53" lengthAdjust="spacingAndGlyphs">B</text>
<rect x="301.21" y="406.9" width="13.4" height="15" fill="#ff1446"/>
<text x="305.01" y="418.00" font-family="Liberation Sans" font-weight="bold" font-size="11.00" fill="#fff" textLength="6.28" lengthAdjust="spacingAndGlyphs">S</text>
<rect x="305.26" y="406.9" width="13.4" height="15" fill="#00c853"/>
<text x="308.36" y="418.00" font-family="Liberation Sans" font-weight="bold" font-size="11.41" fill="#fff" textLength="6.53" lengthAdjust="spacingAndGlyphs">B</text>
<rect x="309.31" y="406.9" width="13.4" height="15" fill="#ff1446"/>
<text x="313.11" y="418.00" font-family="Liberation Sans" font-weight="bold" font-size="11.00" fill="#fff" textLength="6.28" lengthAdjust="spacingAndGlyphs">S</text>
<rect x="317.42" y="406.9" width="13.4" height="15" fill="#00c853"/>
<text x="320.52" y="418.00" font-family="Liberation Sans" font-weight="bold" font-size="11.41" fill="#fff" textLength="6.53" lengthAdjust="spacingAndGlyphs">B</text>
<rect x="746.92" y="406.9" width="13.4" height="15" fill="#ff1446"/>
<text x="750.72" y="418.00" font-family="Liberation Sans" font-weight="bold" font-size="11.00" fill="#fff" textLength="6.28" lengthAdjust="spacingAndGlyphs">S</text>
<rect x="811.75" y="406.9" width="13.4" height="15" fill="#00c853"/>
<text x="814.85" y="418.00" font-family="Liberation Sans" font-weight="bold" font-size="11.41" fill="#fff" textLength="6.53" lengthAdjust="spacingAndGlyphs">B</text>
<rect x="896.84" y="406.9" width="13.4" height="15" fill="#ff1446"/>
<text x="900.64" y="418.00" font-family="Liberation Sans" font-weight="bold" font-size="11.00" fill="#fff" textLength="6.28" lengthAdjust="spacingAndGlyphs">S</text>
<rect x="1006.24" y="406.9" width="13.4" height="15" fill="#00c853"/>
<text x="1009.34" y="418.00" font-family="Liberation Sans" font-weight="bold" font-size="11.41" fill="#fff" textLength="6.53" lengthAdjust="spacingAndGlyphs">B</text>
<rect x="1022.45" y="406.9" width="13.4" height="15" fill="#ff1446"/>
<text x="1026.25" y="418.00" font-family="Liberation Sans" font-weight="bold" font-size="11.00" fill="#fff" textLength="6.28" lengthAdjust="spacingAndGlyphs">S</text>
<rect x="521.05" y="13.65" width="97.1" height="17.2" rx="2.6" fill="#000" fill-opacity="0.9" stroke="#3dbb6a" stroke-width="2.2"/>
<line x1="621" y1="28.4" x2="655" y2="32.9" stroke="#2ecc71" stroke-width="1.6"/>
<polygon points="661,33.7 653.5,29.2 652.6,36.4" fill="#2ecc71"/>
<rect x="143.35" y="408.2" width="97.6" height="17.2" rx="2.6" fill="#000" fill-opacity="0.85" stroke="#d23a3a" stroke-width="2.1"/>
<line x1="140.5" y1="409.9" x2="106" y2="405.7" stroke="#e83a3a" stroke-width="1.6"/>
<polygon points="100,405 107.6,401.8 107,409.6" fill="#e83a3a"/>
<text x="523.80" y="24.90" font-family="Liberation Sans" font-weight="bold" font-size="12.15" fill="#3dd476" textLength="91.04" lengthAdjust="spacingAndGlyphs">$352.79 52W</text>
<text x="146.80" y="419.90" font-family="Liberation Sans" font-weight="bold" font-size="12.42" fill="#ee3636" textLength="91.46" lengthAdjust="spacingAndGlyphs">$145.95 52W</text>
<rect x="12.0" y="427.7" width="1042.5" height="166.09999999999997" fill="#808080"/>
<text x="363.00" y="481.50" font-family="Liberation Sans" font-weight="bold" font-size="62.34" fill="#000" fill-opacity="0.06" textLength="45.82" lengthAdjust="spacingAndGlyphs">K</text>
<text x="408.50" y="481.50" font-family="Liberation Sans" font-weight="bold" font-size="62.34" fill="#000" fill-opacity="0.06" textLength="35.12" lengthAdjust="spacingAndGlyphs">E</text>
<text x="448.50" y="481.50" font-family="Liberation Sans" font-weight="bold" font-size="62.34" fill="#000" fill-opacity="0.06" textLength="42.49" lengthAdjust="spacingAndGlyphs">R</text>
<text x="492.50" y="481.50" font-family="Liberation Sans" font-weight="bold" font-size="69.99" fill="#000" fill-opacity="0.06" textLength="20.26" lengthAdjust="spacingAndGlyphs">.</text>
<text x="515.50" y="481.50" font-family="Liberation Sans" font-weight="bold" font-size="62.34" fill="#000" fill-opacity="0.06" textLength="40.83" lengthAdjust="spacingAndGlyphs">P</text>
<text x="556.50" y="481.50" font-family="Liberation Sans" font-weight="bold" font-size="62.34" fill="#000" fill-opacity="0.06" textLength="46.83" lengthAdjust="spacingAndGlyphs">A</text>
<text x="458.40" y="497.00" font-family="Liberation Sans" font-weight="normal" font-size="16.18" fill="#000" fill-opacity="0.06" textLength="49.65" lengthAdjust="spacingAndGlyphs">Kering</text>
<g clip-path="url(#cv)">
<g fill="#1e961e"><rect x="14.45" y="569.70" width="4.452" height="24.10"/><rect x="26.60" y="572.70" width="4.452" height="21.10"/><rect x="63.07" y="572.00" width="4.452" height="21.80"/><rect x="67.12" y="575.70" width="4.452" height="18.10"/><rect x="83.33" y="577.20" width="4.452" height="16.60"/><rect x="95.48" y="544.50" width="4.452" height="49.30"/><rect x="111.69" y="574.90" width="4.452" height="18.90"/><rect x="123.85" y="579.40" width="4.452" height="14.40"/><rect x="127.90" y="580.10" width="4.452" height="13.70"/><rect x="131.95" y="579.40" width="4.452" height="14.40"/><rect x="136.00" y="567.50" width="4.452" height="26.30"/><rect x="140.05" y="564.50" width="4.452" height="29.30"/><rect x="148.16" y="580.10" width="4.452" height="13.70"/><rect x="156.26" y="579.40" width="4.452" height="14.40"/><rect x="160.31" y="571.20" width="4.452" height="22.60"/><rect x="176.52" y="580.90" width="4.452" height="12.90"/><rect x="180.57" y="583.10" width="4.452" height="10.70"/><rect x="184.63" y="568.20" width="4.452" height="25.60"/><rect x="188.68" y="579.40" width="4.452" height="14.40"/><rect x="200.83" y="573.40" width="4.452" height="20.40"/><rect x="208.94" y="573.40" width="4.452" height="20.40"/><rect x="229.20" y="580.90" width="4.452" height="12.90"/><rect x="245.40" y="571.20" width="4.452" height="22.60"/><rect x="249.46" y="583.80" width="4.452" height="10.00"/><rect x="253.51" y="579.40" width="4.452" height="14.40"/><rect x="265.66" y="583.10" width="4.452" height="10.70"/><rect x="269.72" y="577.20" width="4.452" height="16.60"/><rect x="281.87" y="576.40" width="4.452" height="17.40"/><rect x="285.92" y="537.10" width="4.452" height="56.70"/><rect x="302.13" y="442.90" width="4.452" height="150.90"/><rect x="322.39" y="570.20" width="4.452" height="23.60"/><rect x="330.49" y="568.30" width="4.452" height="25.50"/><rect x="334.55" y="570.20" width="4.452" height="23.60"/><rect x="342.65" y="581.30" width="4.452" height="12.50"/><rect x="350.75" y="582.50" width="4.452" height="11.30"/><rect x="354.81" y="577.80" width="4.452" height="16.00"/><rect x="358.86" y="573.00" width="4.452" height="20.80"/><rect x="366.96" y="580.10" width="4.452" height="13.70"/><rect x="383.17" y="578.30" width="4.452" height="15.50"/><rect x="387.22" y="586.10" width="4.452" height="7.70"/><rect x="391.27" y="577.20" width="4.452" height="16.60"/><rect x="395.32" y="569.30" width="4.452" height="24.50"/><rect x="403.43" y="565.30" width="4.452" height="28.50"/><rect x="419.64" y="571.30" width="4.452" height="22.50"/><rect x="439.90" y="581.90" width="4.452" height="11.90"/><rect x="443.95" y="586.10" width="4.452" height="7.70"/><rect x="456.10" y="581.10" width="4.452" height="12.70"/><rect x="472.31" y="581.90" width="4.452" height="11.90"/><rect x="476.36" y="582.40" width="4.452" height="11.40"/><rect x="484.47" y="581.90" width="4.452" height="11.90"/><rect x="488.52" y="580.40" width="4.452" height="13.40"/><rect x="492.57" y="575.20" width="4.452" height="18.60"/><rect x="496.62" y="578.80" width="4.452" height="15.00"/><rect x="500.67" y="575.20" width="4.452" height="18.60"/><rect x="508.78" y="589.20" width="4.452" height="4.60"/><rect x="512.83" y="569.30" width="4.452" height="24.50"/><rect x="524.99" y="580.40" width="4.452" height="13.40"/><rect x="529.04" y="583.00" width="4.452" height="10.80"/><rect x="537.14" y="583.00" width="4.452" height="10.80"/><rect x="541.19" y="570.00" width="4.452" height="23.80"/><rect x="545.24" y="583.80" width="4.452" height="10.00"/><rect x="549.30" y="566.90" width="4.452" height="26.90"/><rect x="553.35" y="563.20" width="4.452" height="30.60"/><rect x="557.40" y="572.00" width="4.452" height="21.80"/><rect x="561.45" y="573.10" width="4.452" height="20.70"/><rect x="573.61" y="574.10" width="4.452" height="19.70"/><rect x="577.66" y="577.80" width="4.452" height="16.00"/><rect x="585.76" y="577.20" width="4.452" height="16.60"/><rect x="589.82" y="571.00" width="4.452" height="22.80"/><rect x="597.92" y="583.00" width="4.452" height="10.80"/><rect x="606.02" y="580.90" width="4.452" height="12.90"/><rect x="614.13" y="554.90" width="4.452" height="38.90"/><rect x="618.18" y="576.70" width="4.452" height="17.10"/><rect x="646.54" y="577.20" width="4.452" height="16.60"/><rect x="662.75" y="554.90" width="4.452" height="38.90"/><rect x="674.91" y="584.00" width="4.452" height="9.80"/><rect x="678.96" y="584.00" width="4.452" height="9.80"/><rect x="695.17" y="580.40" width="4.452" height="13.40"/><rect x="699.22" y="583.20" width="4.452" height="10.60"/><rect x="707.32" y="579.30" width="4.452" height="14.50"/><rect x="711.37" y="581.90" width="4.452" height="11.90"/><rect x="715.42" y="584.00" width="4.452" height="9.80"/><rect x="723.53" y="579.30" width="4.452" height="14.50"/><rect x="747.84" y="571.00" width="4.452" height="22.80"/><rect x="755.94" y="586.10" width="4.452" height="7.70"/><rect x="772.15" y="581.90" width="4.452" height="11.90"/><rect x="780.26" y="585.00" width="4.452" height="8.80"/><rect x="788.36" y="587.10" width="4.452" height="6.70"/><rect x="800.51" y="583.00" width="4.452" height="10.80"/><rect x="804.57" y="581.90" width="4.452" height="11.90"/><rect x="808.62" y="583.00" width="4.452" height="10.80"/><rect x="812.67" y="577.20" width="4.452" height="16.60"/><rect x="816.72" y="578.00" width="4.452" height="15.80"/><rect x="820.77" y="579.80" width="4.452" height="14.00"/><rect x="832.93" y="587.10" width="4.452" height="6.70"/><rect x="841.03" y="592.80" width="4.452" height="1.00"/><rect x="849.14" y="587.10" width="4.452" height="6.70"/><rect x="853.19" y="590.70" width="4.452" height="3.10"/><rect x="857.24" y="587.10" width="4.452" height="6.70"/><rect x="865.34" y="585.00" width="4.452" height="8.80"/><rect x="873.45" y="586.10" width="4.452" height="7.70"/><rect x="877.50" y="580.40" width="4.452" height="13.40"/><rect x="889.66" y="584.00" width="4.452" height="9.80"/><rect x="909.92" y="585.00" width="4.452" height="8.80"/><rect x="950.43" y="579.20" width="4.452" height="14.60"/><rect x="958.54" y="571.40" width="4.452" height="22.40"/><rect x="978.80" y="581.00" width="4.452" height="12.80"/><rect x="986.90" y="585.80" width="4.452" height="8.00"/><rect x="990.95" y="583.40" width="4.452" height="10.40"/><rect x="995.01" y="581.00" width="4.452" height="12.80"/><rect x="1003.11" y="578.00" width="4.452" height="15.80"/><rect x="1007.16" y="582.80" width="4.452" height="11.00"/><rect x="1011.21" y="582.80" width="4.452" height="11.00"/></g>
<g fill="#ff1010"><rect x="10.39" y="566.80" width="4.452" height="27.00"/><rect x="18.50" y="572.00" width="4.452" height="21.80"/><rect x="22.55" y="575.00" width="4.452" height="18.80"/><rect x="30.65" y="515.60" width="4.452" height="78.20"/><rect x="34.71" y="567.50" width="4.452" height="26.30"/><rect x="38.76" y="569.70" width="4.452" height="24.10"/><rect x="42.81" y="572.00" width="4.452" height="21.80"/><rect x="46.86" y="571.20" width="4.452" height="22.60"/><rect x="50.91" y="554.90" width="4.452" height="38.90"/><rect x="54.96" y="563.00" width="4.452" height="30.80"/><rect x="59.02" y="569.70" width="4.452" height="24.10"/><rect x="71.17" y="572.00" width="4.452" height="21.80"/><rect x="75.22" y="564.50" width="4.452" height="29.30"/><rect x="79.28" y="572.00" width="4.452" height="21.80"/><rect x="87.38" y="547.50" width="4.452" height="46.30"/><rect x="91.43" y="555.60" width="4.452" height="38.20"/><rect x="99.54" y="559.30" width="4.452" height="34.50"/><rect x="103.59" y="564.50" width="4.452" height="29.30"/><rect x="107.64" y="557.10" width="4.452" height="36.70"/><rect x="115.74" y="572.70" width="4.452" height="21.10"/><rect x="119.80" y="574.20" width="4.452" height="19.60"/><rect x="144.11" y="578.60" width="4.452" height="15.20"/><rect x="152.21" y="583.10" width="4.452" height="10.70"/><rect x="164.37" y="583.10" width="4.452" height="10.70"/><rect x="168.42" y="583.80" width="4.452" height="10.00"/><rect x="172.47" y="578.60" width="4.452" height="15.20"/><rect x="192.73" y="574.90" width="4.452" height="18.90"/><rect x="196.78" y="572.70" width="4.452" height="21.10"/><rect x="204.89" y="583.80" width="4.452" height="10.00"/><rect x="212.99" y="572.00" width="4.452" height="21.80"/><rect x="217.04" y="578.60" width="4.452" height="15.20"/><rect x="221.09" y="572.00" width="4.452" height="21.80"/><rect x="225.14" y="586.80" width="4.452" height="7.00"/><rect x="233.25" y="575.70" width="4.452" height="18.10"/><rect x="237.30" y="576.40" width="4.452" height="17.40"/><rect x="241.35" y="566.00" width="4.452" height="27.80"/><rect x="257.56" y="578.60" width="4.452" height="15.20"/><rect x="261.61" y="578.60" width="4.452" height="15.20"/><rect x="273.77" y="580.10" width="4.452" height="13.70"/><rect x="277.82" y="574.20" width="4.452" height="19.60"/><rect x="289.98" y="557.90" width="4.452" height="35.90"/><rect x="294.03" y="571.80" width="4.452" height="22.00"/><rect x="298.08" y="574.20" width="4.452" height="19.60"/><rect x="306.18" y="570.60" width="4.452" height="23.20"/><rect x="310.23" y="573.00" width="4.452" height="20.80"/><rect x="314.29" y="577.80" width="4.452" height="16.00"/><rect x="318.34" y="576.60" width="4.452" height="17.20"/><rect x="326.44" y="570.60" width="4.452" height="23.20"/><rect x="338.60" y="576.60" width="4.452" height="17.20"/><rect x="346.70" y="582.50" width="4.452" height="11.30"/><rect x="362.91" y="577.80" width="4.452" height="16.00"/><rect x="371.01" y="584.90" width="4.452" height="8.90"/><rect x="375.07" y="576.60" width="4.452" height="17.20"/><rect x="379.12" y="583.00" width="4.452" height="10.80"/><rect x="399.38" y="574.10" width="4.452" height="19.70"/><rect x="407.48" y="577.20" width="4.452" height="16.60"/><rect x="411.53" y="576.20" width="4.452" height="17.60"/><rect x="415.58" y="571.00" width="4.452" height="22.80"/><rect x="423.69" y="572.00" width="4.452" height="21.80"/><rect x="427.74" y="581.90" width="4.452" height="11.90"/><rect x="431.79" y="584.00" width="4.452" height="9.80"/><rect x="435.84" y="583.00" width="4.452" height="10.80"/><rect x="448.00" y="585.00" width="4.452" height="8.80"/><rect x="452.05" y="585.00" width="4.452" height="8.80"/><rect x="460.15" y="584.00" width="4.452" height="9.80"/><rect x="464.21" y="586.60" width="4.452" height="7.20"/><rect x="468.26" y="584.80" width="4.452" height="9.00"/><rect x="480.41" y="586.10" width="4.452" height="7.70"/><rect x="504.73" y="577.20" width="4.452" height="16.60"/><rect x="516.88" y="578.30" width="4.452" height="15.50"/><rect x="520.93" y="581.90" width="4.452" height="11.90"/><rect x="533.09" y="578.80" width="4.452" height="15.00"/><rect x="565.50" y="552.80" width="4.452" height="41.00"/><rect x="569.56" y="583.00" width="4.452" height="10.80"/><rect x="581.71" y="580.90" width="4.452" height="12.90"/><rect x="593.87" y="577.20" width="4.452" height="16.60"/><rect x="601.97" y="580.90" width="4.452" height="12.90"/><rect x="610.08" y="580.00" width="4.452" height="13.80"/><rect x="622.23" y="576.70" width="4.452" height="17.10"/><rect x="626.28" y="574.10" width="4.452" height="19.70"/><rect x="630.33" y="574.70" width="4.452" height="19.10"/><rect x="634.39" y="574.10" width="4.452" height="19.70"/><rect x="638.44" y="562.20" width="4.452" height="31.60"/><rect x="642.49" y="575.20" width="4.452" height="18.60"/><rect x="650.59" y="570.00" width="4.452" height="23.80"/><rect x="654.65" y="575.70" width="4.452" height="18.10"/><rect x="658.70" y="573.10" width="4.452" height="20.70"/><rect x="666.80" y="573.10" width="4.452" height="20.70"/><rect x="670.85" y="581.90" width="4.452" height="11.90"/><rect x="683.01" y="574.10" width="4.452" height="19.70"/><rect x="687.06" y="574.90" width="4.452" height="18.90"/><rect x="691.11" y="581.90" width="4.452" height="11.90"/><rect x="703.27" y="578.30" width="4.452" height="15.50"/><rect x="719.48" y="581.90" width="4.452" height="11.90"/><rect x="727.58" y="580.40" width="4.452" height="13.40"/><rect x="731.63" y="585.00" width="4.452" height="8.80"/><rect x="735.68" y="577.20" width="4.452" height="16.60"/><rect x="739.74" y="573.10" width="4.452" height="20.70"/><rect x="743.79" y="577.80" width="4.452" height="16.00"/><rect x="751.89" y="572.00" width="4.452" height="21.80"/><rect x="760.00" y="584.00" width="4.452" height="9.80"/><rect x="764.05" y="588.20" width="4.452" height="5.60"/><rect x="768.10" y="584.00" width="4.452" height="9.80"/><rect x="776.20" y="586.10" width="4.452" height="7.70"/><rect x="784.31" y="583.00" width="4.452" height="10.80"/><rect x="792.41" y="588.20" width="4.452" height="5.60"/><rect x="796.46" y="580.90" width="4.452" height="12.90"/><rect x="824.83" y="578.00" width="4.452" height="15.80"/><rect x="828.88" y="565.80" width="4.452" height="28.00"/><rect x="836.98" y="586.10" width="4.452" height="7.70"/><rect x="845.09" y="588.20" width="4.452" height="5.60"/><rect x="861.29" y="581.90" width="4.452" height="11.90"/><rect x="869.40" y="574.10" width="4.452" height="19.70"/><rect x="881.55" y="588.20" width="4.452" height="5.60"/><rect x="885.60" y="587.10" width="4.452" height="6.70"/><rect x="893.71" y="574.90" width="4.452" height="18.90"/><rect x="897.76" y="575.70" width="4.452" height="18.10"/><rect x="901.81" y="575.70" width="4.452" height="18.10"/><rect x="905.86" y="577.20" width="4.452" height="16.60"/><rect x="913.97" y="581.90" width="4.452" height="11.90"/><rect x="918.02" y="585.00" width="4.452" height="8.80"/><rect x="922.07" y="586.10" width="4.452" height="7.70"/><rect x="926.12" y="581.60" width="4.452" height="12.20"/><rect x="930.18" y="574.40" width="4.452" height="19.40"/><rect x="934.23" y="579.20" width="4.452" height="14.60"/><rect x="938.28" y="585.20" width="4.452" height="8.60"/><rect x="942.33" y="581.00" width="4.452" height="12.80"/><rect x="946.38" y="581.00" width="4.452" height="12.80"/><rect x="954.49" y="574.40" width="4.452" height="19.40"/><rect x="962.59" y="579.20" width="4.452" height="14.60"/><rect x="966.64" y="552.20" width="4.452" height="41.60"/><rect x="970.69" y="579.80" width="4.452" height="14.00"/><rect x="974.75" y="580.40" width="4.452" height="13.40"/><rect x="982.85" y="582.80" width="4.452" height="11.00"/><rect x="999.06" y="576.20" width="4.452" height="17.60"/><rect x="1015.27" y="585.20" width="4.452" height="8.60"/><rect x="1019.32" y="576.20" width="4.452" height="17.60"/><rect x="1023.37" y="578.00" width="4.452" height="15.80"/><rect x="1027.42" y="575.00" width="4.452" height="18.80"/></g>
</g>
<rect x="915.1" y="433.9" width="9.4" height="9.8" fill="#ff7b3a"/>
<rect x="915.1" y="450.8" width="9.4" height="9.8" fill="#e91e63"/>
<text x="930.10" y="441.90" font-family="Liberation Sans" font-weight="bold" font-size="12.10" fill="#ee7438" textLength="42.71" lengthAdjust="spacingAndGlyphs">EMA 8</text>
<text x="930.00" y="459.20" font-family="Liberation Sans" font-weight="bold" font-size="12.10" fill="#e0206a" textLength="51.09" lengthAdjust="spacingAndGlyphs">EMA 34</text>
<path d="M12.0 427.7V11.2H1054.5V427.7" fill="none" stroke="#b4b4b4" stroke-width="1"/>
<line x1="12.0" y1="427.7" x2="1054.5" y2="427.7" stroke="#9e9e9e" stroke-width="1.7"/>
<line x1="12.0" y1="594.3" x2="1054.5" y2="594.3" stroke="#b4b4b4" stroke-width="1"/>
<line x1="1054.5" y1="427.7" x2="1054.5" y2="593.8" stroke="#8c8c8c" stroke-width="1"/>
<line x1="1054.5" y1="39.05" x2="1059.5" y2="39.05" stroke="#f0f0f0" stroke-width="1.2"/>
<line x1="1054.5" y1="128.84" x2="1059.5" y2="128.84" stroke="#f0f0f0" stroke-width="1.2"/>
<line x1="1054.5" y1="218.63" x2="1059.5" y2="218.63" stroke="#f0f0f0" stroke-width="1.2"/>
<line x1="1054.5" y1="308.42" x2="1059.5" y2="308.42" stroke="#f0f0f0" stroke-width="1.2"/>
<line x1="1054.5" y1="398.21" x2="1059.5" y2="398.21" stroke="#f0f0f0" stroke-width="1.2"/>
<text x="1063.70" y="44.90" font-family="Liberation Sans" font-weight="normal" font-size="14.44" fill="#f0f0f0" textLength="24.25" lengthAdjust="spacingAndGlyphs">350</text>
<text x="1063.70" y="134.60" font-family="Liberation Sans" font-weight="normal" font-size="14.44" fill="#f0f0f0" textLength="24.25" lengthAdjust="spacingAndGlyphs">300</text>
<text x="1063.70" y="224.30" font-family="Liberation Sans" font-weight="normal" font-size="14.44" fill="#f0f0f0" textLength="24.25" lengthAdjust="spacingAndGlyphs">250</text>
<text x="1063.70" y="313.80" font-family="Liberation Sans" font-weight="normal" font-size="14.44" fill="#f0f0f0" textLength="24.25" lengthAdjust="spacingAndGlyphs">200</text>
<text x="1062.70" y="403.60" font-family="Liberation Sans" font-weight="normal" font-size="14.44" fill="#f0f0f0" textLength="25.09" lengthAdjust="spacingAndGlyphs">150</text>
<text x="1063.50" y="544.70" font-family="Liberation Sans" font-weight="normal" font-size="13.26" fill="#f0f0f0" textLength="8.17" lengthAdjust="spacingAndGlyphs">1</text>
<text x="1063.90" y="489.00" font-family="Liberation Sans" font-weight="normal" font-size="13.26" fill="#f0f0f0" textLength="6.21" lengthAdjust="spacingAndGlyphs">2</text>
<line x1="1054.5" y1="539.40" x2="1059.5" y2="539.40" stroke="#f0f0f0" stroke-width="1.2"/>
<line x1="1054.5" y1="483.30" x2="1059.5" y2="483.30" stroke="#f0f0f0" stroke-width="1.2"/>
<text transform="translate(1101.75,223.25) rotate(-90)" text-anchor="middle" dominant-baseline="central" font-family="Liberation Sans" font-weight="normal" font-size="13.97" fill="#d8d8d8" textLength="31.79" lengthAdjust="spacingAndGlyphs">Preis</text>
<text transform="translate(1082.85,513.40) rotate(-90)" text-anchor="middle" dominant-baseline="central" font-family="Liberation Sans" font-weight="normal" font-size="13.97" fill="#d8d8d8" textLength="59.17" lengthAdjust="spacingAndGlyphs">Volumen</text>
<text transform="translate(1103.00,511.10) rotate(-90)" text-anchor="middle" dominant-baseline="central" font-family="Liberation Sans" font-weight="normal" font-size="14.81" fill="#d8d8d8" textLength="16.35" lengthAdjust="spacingAndGlyphs">10</text>
<text transform="translate(1098.75,499.20) rotate(-90)" text-anchor="middle" dominant-baseline="central" font-family="Liberation Sans" font-weight="normal" font-size="9.75" fill="#d8d8d8" textLength="5.83" lengthAdjust="spacingAndGlyphs">6</text>
<text transform="translate(160.60,633.60) rotate(-45)" text-anchor="middle" dominant-baseline="central" font-family="Liberation Sans" font-weight="normal" font-size="13.00" fill="#e8e8e8" textLength="68.12" lengthAdjust="spacingAndGlyphs">May 2025</text>
<text transform="translate(329.90,628.80) rotate(-45)" text-anchor="middle" dominant-baseline="central" font-family="Liberation Sans" font-weight="normal" font-size="13.00" fill="#e8e8e8" textLength="58.35" lengthAdjust="spacingAndGlyphs">Jul 2025</text>
<text transform="translate(508.90,633.10) rotate(-45)" text-anchor="middle" dominant-baseline="central" font-family="Liberation Sans" font-weight="normal" font-size="13.00" fill="#e8e8e8" textLength="67.31" lengthAdjust="spacingAndGlyphs">Sep 2025</text>
<text transform="translate(691.45,631.60) rotate(-45)" text-anchor="middle" dominant-baseline="central" font-family="Liberation Sans" font-weight="normal" font-size="13.00" fill="#e8e8e8" textLength="68.67" lengthAdjust="spacingAndGlyphs">Nov 2025</text>
<text transform="translate(857.15,631.30) rotate(-45)" text-anchor="middle" dominant-baseline="central" font-family="Liberation Sans" font-weight="normal" font-size="13.00" fill="#e8e8e8" textLength="60.96" lengthAdjust="spacingAndGlyphs">Jan 2026</text>
<text transform="translate(1024.25,631.85) rotate(-45)" text-anchor="middle" dominant-baseline="central" font-family="Liberation Sans" font-weight="normal" font-size="13.00" fill="#e8e8e8" textLength="66.55" lengthAdjust="spacingAndGlyphs">Mar 2026</text>
<line x1="81.5" y1="594.3" x2="81.5" y2="599.5" stroke="#f0f0f0" stroke-width="1.2"/>
<line x1="162.5" y1="594.3" x2="162.5" y2="599.5" stroke="#f0f0f0" stroke-width="1.2"/>
<line x1="247.5" y1="594.3" x2="247.5" y2="599.5" stroke="#f0f0f0" stroke-width="1.2"/>
<line x1="332.5" y1="594.3" x2="332.5" y2="599.5" stroke="#f0f0f0" stroke-width="1.2"/>
<line x1="425.5" y1="594.3" x2="425.5" y2="599.5" stroke="#f0f0f0" stroke-width="1.2"/>
<line x1="511.5" y1="594.3" x2="511.5" y2="599.5" stroke="#f0f0f0" stroke-width="1.2"/>
<line x1="600.5" y1="594.3" x2="600.5" y2="599.5" stroke="#f0f0f0" stroke-width="1.2"/>
<line x1="693.5" y1="594.3" x2="693.5" y2="599.5" stroke="#f0f0f0" stroke-width="1.2"/>
<line x1="774.5" y1="594.3" x2="774.5" y2="599.5" stroke="#f0f0f0" stroke-width="1.2"/>
<line x1="859.5" y1="594.3" x2="859.5" y2="599.5" stroke="#f0f0f0" stroke-width="1.2"/>
<line x1="944.5" y1="594.3" x2="944.5" y2="599.5" stroke="#f0f0f0" stroke-width="1.2"/>
<line x1="1025.5" y1="594.3" x2="1025.5" y2="599.5" stroke="#f0f0f0" stroke-width="1.2"/>
</svg>
</div></body></html>
